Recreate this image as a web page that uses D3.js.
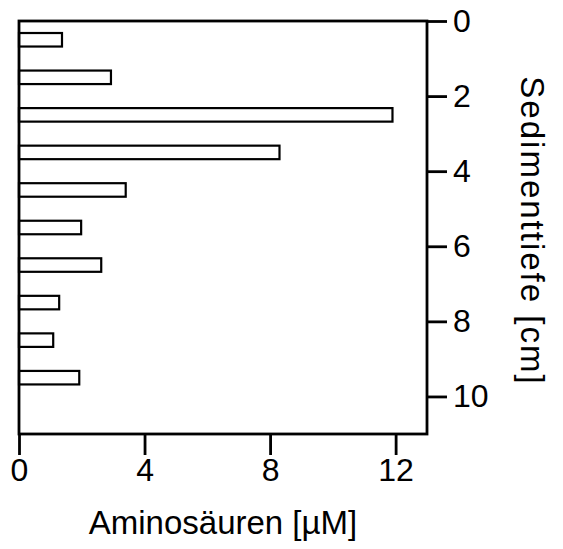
<html>
<script src="https://d3js.org/d3.v7.min.js"></script>
<style>
body { margin: 0; background: #fff; }
text { font-family: "Liberation Sans", Arial, sans-serif; fill: #000; }
</style>
<body>
<svg width="563" height="549" class="chart"></svg>
<script>
// depth of each sample (cm) and amino acid concentration (µM)
var depth = [0.5, 1.5, 2.5, 3.5, 4.5, 5.5, 6.5, 7.5, 8.5, 9.5];
var amino = [1.37, 2.93, 11.9, 8.3, 3.4, 1.98, 2.62, 1.28, 1.09, 1.92];
var xTicks = [0, 4, 8, 12];
var yTicks = [0, 2, 4, 6, 8, 10];

function draw() {
    var mLeft = 19, mTop = 21, w = 408, h = 413;

    var x = d3.scaleLinear().domain([0, 13]).range([0, w]);
    var y = d3.scaleLinear().domain([0, 11]).range([0, h]);

    var svg = d3.select(".chart");
    var g = svg.append("g").attr("transform", "translate(" + mLeft + "," + mTop + ")");

    // bars
    g.selectAll("rect.bar")
      .data(depth)
      .enter()
      .append("rect")
      .attr("class", "bar")
      .attr("x", 0)
      .attr("y", function(d) { return y(d - 0.18); })
      .attr("width", function(d, i) { return x(amino[i]); })
      .attr("height", function(d) { return y(d + 0.18) - y(d - 0.18); })
      .attr("fill", "#fff")
      .attr("stroke", "#000")
      .attr("stroke-width", 2.2);

    // frame
    g.append("rect")
      .attr("width", w).attr("height", h)
      .attr("fill", "none").attr("stroke", "#000").attr("stroke-width", 2.8);

    // bottom axis
    var xa = g.append("g")
      .attr("transform", "translate(0," + h + ")")
      .call(d3.axisBottom(x).tickValues(xTicks).tickSize(21).tickSizeOuter(0).tickPadding(3));
    // right axis
    var ya = g.append("g")
      .attr("transform", "translate(" + w + ",0)")
      .call(d3.axisRight(y).tickValues(yTicks).tickSize(20).tickSizeOuter(0).tickPadding(6));

    [xa, ya].forEach(function(a) {
      a.select(".domain").remove();
      a.selectAll("line").attr("stroke", "#000").attr("stroke-width", 2.8);
      a.selectAll("text").style("font-size", "32px").style("font-family", "'Liberation Sans', Arial, sans-serif").attr("fill", "#000");
    });

    // axis titles
    svg.append("text")
      .attr("x", 223).attr("y", 534)
      .attr("text-anchor", "middle")
      .style("font-size", "33px")
      .text("Aminosäuren [µM]");

    svg.append("text")
      .attr("transform", "translate(521,231) rotate(90)")
      .attr("text-anchor", "middle")
      .style("font-size", "33px")
      .style("letter-spacing", "2px")
      .text("Sedimenttiefe [cm]");
}
draw();
</script>
</body>
</html>
